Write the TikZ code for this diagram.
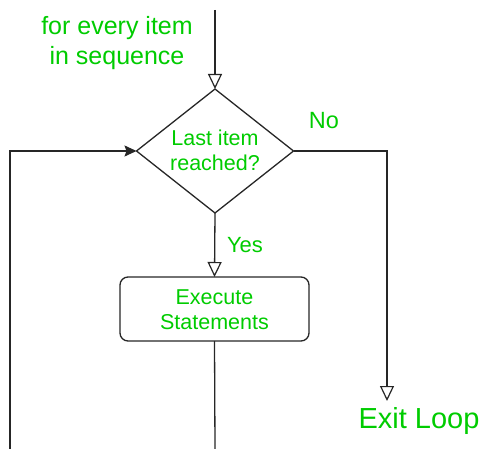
\documentclass[tikz,border=0pt]{standalone}
\usepackage{fontspec}
\setmainfont{Liberation Sans}
\usetikzlibrary{shapes.geometric,arrows.meta}
\definecolor{lbl}{RGB}{0,204,0}
\begin{document}
\begin{tikzpicture}[x=1pt,y=-1pt,
  line/.style={draw=black!85,line width=1.3pt},
  openarrow/.style={-{Triangle[open,length=15pt,width=14pt,line width=1.2pt]}},
  solidarrow/.style={-{Stealth[length=12pt,width=11pt,inset=2pt]}},
  txt/.style={text=lbl,align=center,inner sep=0pt},
  decision/.style={diamond,line,minimum width=157pt,minimum height=124pt,aspect=1.27,inner sep=0pt,outer sep=0pt},
  process/.style={rectangle,rounded corners=8pt,line,minimum width=189pt,minimum height=64pt,inner sep=0pt,outer sep=0pt}]
  \useasboundingbox (0,0) rectangle (482,449);

  % shapes
  \node[decision] (check) at (215,151) {};
  \node[txt,font=\fontsize{21.5}{25}\selectfont] (checktxt) at (215,150) {Last item\\reached?};
  \node[process] (exec) at (214.5,309) {};
  \node[txt,font=\fontsize{21.5}{25}\selectfont] (exectxt) at (214.5,310) {Execute\\Statements};

  % labels
  \node[txt,font=\fontsize{25}{30}\selectfont] (start) at (117,43) {for every item\\in sequence};
  \node[txt,font=\fontsize{23.5}{28}\selectfont] (no) at (324,121) {No};
  \node[txt,font=\fontsize{22}{26}\selectfont] (yes) at (245,245) {Yes};
  \node[txt,font=\fontsize{29}{34}\selectfont] (exit) at (419,421) {Exit Loop};

  % connector end points
  \coordinate (entry) at (215,10);
  \coordinate (exitpt) at (387,401);
  \coordinate (bodyend) at (215,449);
  \coordinate (loopback) at (10,449);

  % connectors
  \draw[line,openarrow] (entry) -- (check.north);
  \draw[line,openarrow] (check.east) -| (exitpt);
  \draw[line,openarrow] (check.south) -- (exec.north);
  \draw[line] (exec.south) -- (bodyend);
  \draw[line,solidarrow] (loopback) |- (check.west);
\end{tikzpicture}
\end{document}
